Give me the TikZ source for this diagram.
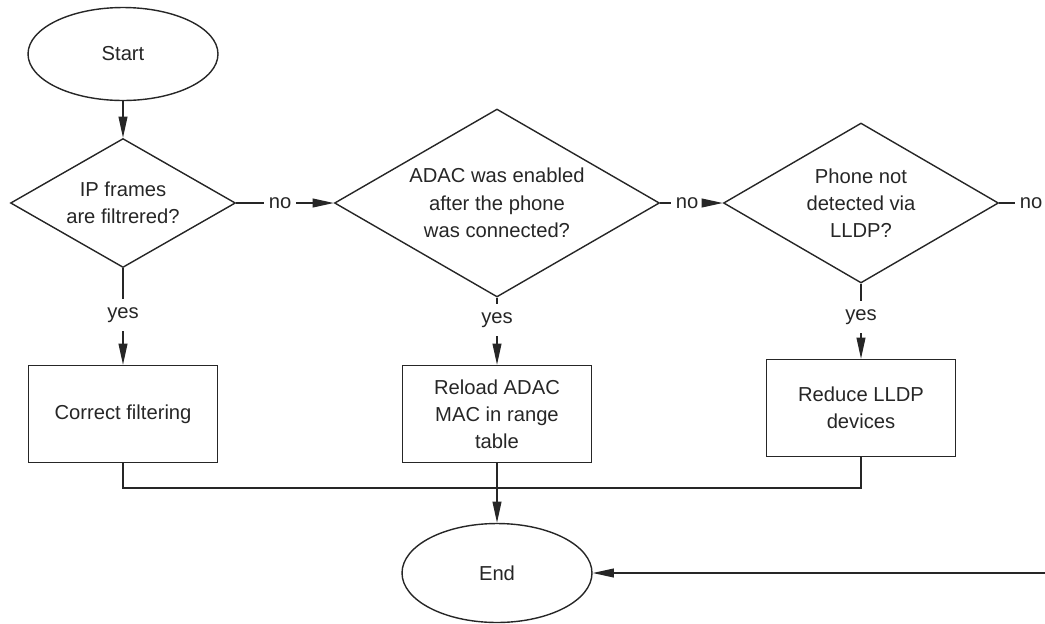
\documentclass[tikz,border=0pt]{standalone}
\usepackage{fontspec}
\setmainfont{Liberation Sans}
\usetikzlibrary{shapes.geometric, arrows.meta}
\begin{document}
\begin{tikzpicture}[x = 0.02cm, y = -0.02cm, line width = 0.8pt, color = black!85,
    every node/.style = {font = \fontsize{11.5}{15.5}\selectfont, align = center},
    terminal/.style = {shape = ellipse, draw, minimum width = 3.8cm,
                       minimum height = 1.86cm, inner sep = 0pt},
    decision/.style = {shape = diamond, draw, aspect = 2, inner sep = -12pt},
    action/.style = {shape = rectangle, draw, minimum width = 3.77cm,
                     minimum height = 1.94cm},
    answer/.style = {inner xsep = 2.5pt, inner ysep = 4.5pt},
    flow/.style = {-{Triangle[length = 12pt, width = 5pt]}}]
  \useasboundingbox (0, 0) rectangle (1045, 623);

  \node[terminal] (start) at (123, 54) {Start};
  \node[decision, minimum width = 4.5cm, minimum height = 2.58cm]
    (d1) at (123, 203) {IP frames\\are filtrered?};
  \node[decision, minimum width = 6.5cm, minimum height = 3.76cm]
    (d2) at (497, 203) {ADAC was enabled\\after the phone\\was connected?};
  \node[decision, minimum width = 5.5cm, minimum height = 3.2cm]
    (d3) at (861, 203) {Phone not\\detected via\\LLDP?};

  \node[action] (b1) at (123, 414) {Correct filtering};
  \node[action] (b2) at (497, 414) {Reload ADAC\\MAC in range\\table};
  \node[action] (b3) at (861, 408) {Reduce LLDP\\devices};
  \node[terminal, minimum height = 1.98cm] (end) at (497, 573) {End};

  \node[answer] (n1) at (280, 203) {no};
  \node[answer] (n2) at (687, 203) {no};
  \node[answer] (n3) at (1031, 203) {no};
  \node[answer] (y1) at (123, 315) {yes};
  \node[answer] (y2) at (497, 320) {yes};
  \node[answer] (y3) at (861, 317) {yes};

  \coordinate (merge) at (497, 488);
  \coordinate (loop) at (1045, 573);

  \draw[flow] (start) -- (d1);
  \foreach \from/\lbl/\to in {d1/n1/d2, d2/n2/d3, d1/y1/b1, d2/y2/b2, d3/y3/b3}
  {
    \draw (\from) -- (\lbl);
    \draw[flow] (\lbl) -- (\to);
  };
  \draw (d3) -- (n3);

  \draw (b1.south) |- (merge) -| (b3.south);
  \draw[flow] (b2) -- (end);
  \draw[flow] (loop) -- (end);
\end{tikzpicture}
\end{document}
